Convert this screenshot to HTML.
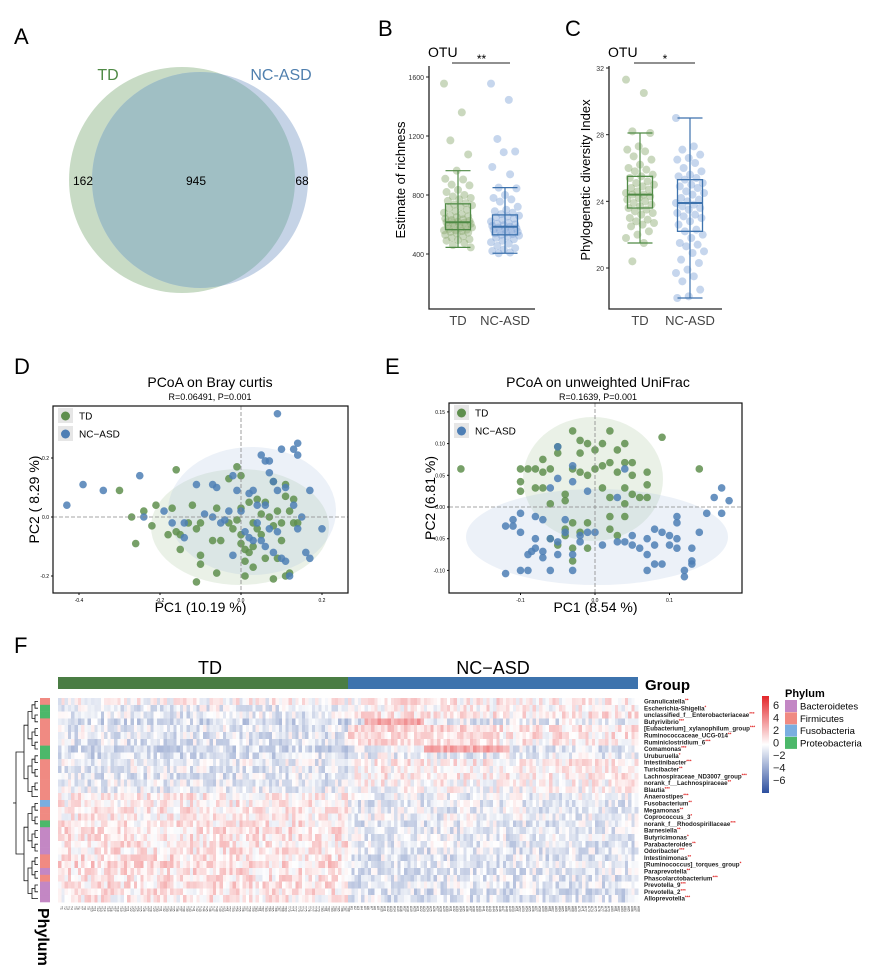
<!DOCTYPE html>
<html><head><meta charset="utf-8">
<style>
html,body{margin:0;padding:0;background:#fff;}
svg{display:block;font-family:"Liberation Sans",Arial,sans-serif;}
</style></head>
<body>
<svg id="fig" width="875" height="977" viewBox="0 0 875 977" xmlns="http://www.w3.org/2000/svg">
<defs>
<clipPath id="vennClip"><circle cx="182" cy="180" r="113"/></clipPath>
<linearGradient id="cbar" x1="0" y1="0" x2="0" y2="1">
<stop offset="0" stop-color="#e3262a"/><stop offset="0.5" stop-color="#ffffff"/><stop offset="1" stop-color="#2d4f9f"/>
</linearGradient>
<clipPath id="clipD"><rect x="53" y="406" width="295" height="187"/></clipPath>
<clipPath id="clipE"><rect x="449" y="403" width="293" height="190"/></clipPath>
</defs>

<g>
<text x="14" y="44" font-size="22">A</text>
<circle cx="182" cy="180" r="113" fill="#c8dbc5"/>
<circle cx="200" cy="180" r="108" fill="#c5d3e6"/>
<circle cx="200" cy="180" r="108" fill="#a0bfc4" clip-path="url(#vennClip)"/>
<text x="108" y="80" font-size="16" fill="#4f8a45" text-anchor="middle">TD</text>
<text x="281" y="80" font-size="16" fill="#4f7fae" text-anchor="middle">NC-ASD</text>
<text x="83" y="185" font-size="12" text-anchor="middle">162</text>
<text x="196" y="185" font-size="12" text-anchor="middle">945</text>
<text x="302" y="185" font-size="12" text-anchor="middle">68</text>
</g>

<text x="378" y="36" font-size="22">B</text>
<text x="565" y="36" font-size="22">C</text>
<g id="panelB"></g>
<g id="panelC"></g>

<text x="14" y="374" font-size="22">D</text>
<text x="385" y="374" font-size="22">E</text>
<g id="panelD"></g>
<g id="panelE"></g>

<text x="14" y="653" font-size="22">F</text>
<g id="panelF"></g>
</svg>

<script>
// ---------- Data: boxplots ----------
const bGroups = ["TD","NC-ASD"];
const bTD = [1555,1360,1170,1075,965,910,905,870,865,835,820,800,790,780,770,760,745,735,730,720,710,700,690,680,670,660,655,650,640,635,630,625,620,615,612,610,605,600,595,590,585,580,575,570,565,560,560,555,550,545,540,530,520,510,500,495,490,475,460,445];
const bNC = [1555,1445,1180,1095,1090,990,940,850,845,800,780,770,755,720,700,690,680,670,660,655,650,640,630,620,610,605,600,595,590,585,580,575,570,565,560,555,550,545,540,535,530,525,520,510,500,490,480,470,455,440,430,420,410,405];
const bStatsTD = [445,565,615,740,965];
const bStatsNC = [405,530,585,665,850];
const bTicks = [400,800,1200,1600];
const cTD = [31.3,30.5,28.2,28.1,27.3,27.1,27.0,26.7,26.5,26.2,26.0,25.9,25.8,25.6,25.5,25.4,25.2,25.1,25.0,24.9,24.8,24.7,24.6,24.5,24.4,24.4,24.3,24.2,24.1,24.0,23.9,23.8,23.7,23.6,23.5,23.4,23.3,23.2,23.0,22.9,22.8,22.7,22.6,22.5,22.2,22.0,21.8,21.5,20.4];
const cNC = [29.0,27.3,27.1,26.8,26.6,26.5,26.3,26.0,25.8,25.6,25.5,25.4,25.3,25.1,25.0,24.9,24.8,24.6,24.5,24.4,24.2,24.1,24.0,23.9,23.8,23.7,23.6,23.5,23.3,23.2,23.1,23.0,22.8,22.6,22.3,22.2,22.0,21.8,21.5,21.4,21.3,21.0,20.9,20.5,20.3,19.9,19.7,19.5,19.2,18.7,18.3,18.2];
const cStatsTD = [21.5,23.6,24.4,25.5,28.1];
const cStatsNC = [18.2,22.2,23.9,25.3,29.0];
const cTicks = [20,24,28,32];

// ---------- Data: PCoA ----------
const dTDx = [-0.16,-0.30,-0.21,-0.27,-0.24,-0.22,-0.26,-0.17,-0.18,-0.16,-0.15,-0.15,-0.12,-0.13,-0.11,-0.10,-0.10,-0.10,-0.11,-0.07,-0.06,-0.05,-0.06,-0.03,-0.03,-0.02,-0.01,0.0,0.0,-0.01,0.0,0.0,0.01,0.01,0.01,0.02,0.02,0.03,0.03,0.03,0.04,0.04,0.05,0.05,0.06,0.06,0.07,0.08,0.08,0.08,0.09,0.09,0.10,0.10,0.11,0.11,0.11,0.12,0.12,0.13,0.13,0.14];
const dTDy = [0.16,0.09,0.04,0.0,0.02,-0.03,-0.09,0.03,-0.06,-0.05,-0.06,-0.11,0.04,-0.02,-0.04,-0.02,-0.13,-0.16,-0.22,-0.08,0.03,-0.08,-0.19,0.13,-0.02,-0.04,0.17,0.14,0.03,-0.01,-0.06,-0.09,-0.15,-0.2,-0.11,-0.12,0.05,-0.02,-0.17,-0.1,0.06,-0.04,0.01,-0.06,0.05,-0.14,0.0,0.12,-0.03,-0.21,0.02,-0.14,-0.02,-0.08,0.11,0.07,-0.2,0.02,-0.19,0.06,-0.02,-0.02];
const dNCx = [-0.43,-0.39,-0.34,-0.25,-0.24,-0.19,-0.17,-0.14,-0.14,-0.11,-0.09,-0.07,-0.07,-0.06,-0.05,-0.04,-0.03,-0.02,-0.02,-0.01,0.0,0.01,0.02,0.02,0.03,0.03,0.04,0.04,0.05,0.05,0.06,0.06,0.06,0.07,0.07,0.07,0.08,0.08,0.09,0.09,0.09,0.10,0.10,0.11,0.11,0.12,0.13,0.13,0.14,0.14,0.14,0.15,0.16,0.17,0.17,0.20];
const dNCy = [0.04,0.11,0.09,0.14,0.0,0.02,-0.02,-0.07,-0.02,0.11,0.01,0.11,0.0,0.10,-0.02,-0.01,0.02,0.14,-0.13,0.09,0.02,-0.05,0.08,-0.07,0.09,-0.08,0.04,-0.02,-0.08,0.21,0.19,0.04,-0.1,-0.04,0.15,0.19,0.12,-0.12,0.09,0.35,-0.05,0.23,-0.14,0.1,-0.15,-0.2,0.04,0.23,0.25,0.21,-0.04,0.0,-0.12,0.09,-0.14,-0.04];
const dTicksX = [-0.4,-0.2,0.0,0.2];
const dTicksY = [-0.2,0.0,0.2];
const eTDx = [-0.18,-0.10,-0.10,-0.10,-0.09,-0.08,-0.08,-0.07,-0.07,-0.07,-0.06,-0.06,-0.05,-0.05,-0.04,-0.04,-0.03,-0.03,-0.02,-0.02,-0.02,-0.01,-0.01,0.0,0.0,0.01,0.01,0.01,0.02,0.02,0.02,0.02,0.03,0.03,0.04,0.04,0.04,0.04,0.04,0.05,0.05,0.05,0.06,0.07,0.07,0.07,0.09,0.14,-0.06,-0.05,-0.04,-0.04,-0.03,-0.03,-0.03,-0.02,-0.01,0.02,0.03,-0.01];
const eTDy = [0.06,0.06,0.04,0.025,0.06,0.03,0.06,0.075,0.055,0.03,0.06,0.005,0.085,0.095,0.02,0.01,0.06,0.12,0.105,0.085,0.055,0.1,0.05,0.09,0.06,0.1,0.065,0.03,0.12,0.07,0.015,-0.015,0.09,0.055,0.1,0.07,0.03,0.005,-0.015,0.07,0.05,0.02,0.015,0.055,0.035,0.015,0.11,0.06,-0.05,-0.06,-0.035,-0.045,-0.065,-0.085,-0.025,-0.04,-0.065,-0.035,-0.045,-0.025];
const eNCx = [-0.12,-0.12,-0.11,-0.11,-0.10,-0.10,-0.10,-0.09,-0.09,-0.08,-0.08,-0.085,-0.08,-0.07,-0.07,-0.07,-0.06,-0.06,-0.06,-0.05,-0.05,-0.05,-0.05,-0.04,-0.04,-0.03,-0.03,-0.03,-0.03,-0.02,-0.02,-0.01,-0.01,0.0,0.01,0.03,0.03,0.04,0.04,0.05,0.05,0.06,0.07,0.07,0.07,0.08,0.08,0.08,0.09,0.09,0.1,0.1,0.11,0.11,0.11,0.11,0.12,0.12,0.13,0.13,0.13,0.14,0.15,0.16,0.17,0.17,0.18];
const eNCy = [-0.105,-0.03,-0.02,-0.03,-0.04,-0.1,-0.01,-0.1,-0.075,-0.065,-0.05,-0.07,-0.015,-0.02,-0.08,-0.07,-0.05,-0.1,0.03,-0.055,0.095,0.045,-0.075,-0.02,-0.04,0.04,-0.075,-0.1,0.065,-0.045,-0.055,-0.04,0.025,-0.04,-0.06,-0.055,0.015,-0.055,0.06,-0.06,-0.045,-0.065,-0.05,-0.075,-0.1,-0.035,-0.06,-0.09,-0.04,-0.09,-0.06,-0.045,-0.065,-0.025,-0.05,-0.015,-0.1,-0.11,-0.09,-0.065,-0.085,-0.04,-0.01,0.015,-0.01,0.03,0.01];
const eTicksX = [-0.1,0.0,0.1];
const eTicksY = [-0.10,-0.05,0.00,0.05,0.10,0.15];

// ---------- Data: heatmap ----------
const taxa = ["Granulicatella","Escherichia-Shigella","unclassified_f__Enterobacteriaceae","Butyrivibrio","[Eubacterium]_xylanophilum_group","Ruminococcaceae_UCG-014","Ruminiclostridium_6","Comamonas","Uruburuella","Intestinibacter","Turicibacter","Lachnospiraceae_ND3007_group","norank_f__Lachnospiraceae","Blautia","Anaerostipes","Fusobacterium","Megamonas","Coprococcus_3","norank_f__Rhodospirillaceae","Barnesiella","Butyricimonas","Parabacteroides","Odoribacter","Intestinimonas","[Ruminococcus]_torques_group","Paraprevotella","Phascolarctobacterium","Prevotella_9","Prevotella_2","Alloprevotella"];
const stars = ["**","*","***","***","***","**","***","***","*","***","**","***","**","***","***","**","**","*","***","**","*","**","***","**","*","**","***","***","***","***"];
const phyla = ["F","P","P","F","F","F","F","P","P","F","F","F","F","F","F","Fu","F","F","P","B","B","B","B","F","F","B","F","B","B","B"];
const tdMean = [0.1,-0.3,-0.4,-0.8,-0.4,-0.5,-0.5,-0.8,-0.7,-0.3,-0.4,-0.5,-0.4,-0.3,0.3,0.3,0.4,0.3,0.4,0.5,0.4,0.4,0.4,0.5,0.6,0.5,0.4,0.5,0.4,0.3];
const ncMean = [0.3,0.2,0.4,-0.4,0.4,0.4,0.3,-0.5,-0.3,0.3,0.2,0.3,0.1,0.0,-0.3,-0.4,-0.4,-0.3,-0.5,-0.4,-0.4,-0.5,-0.5,-0.5,-0.5,-0.5,-0.5,-0.5,-0.6,-0.6];
const ncBandRows = [3,7,4,5,6];
const ncBandStart = [5,23,0,0,0];
const ncBandEnd = [23,49,45,45,45];
const ncBandVal = [1.6,1.6,0.8,0.6,0.6];
const cbarTicks = [6,4,2,0,-2,-4,-6];

const NS = "http://www.w3.org/2000/svg";
function mk(tag, attrs, parent){
  const e = document.createElementNS(NS, tag);
  for (const k in attrs) e.setAttribute(k, attrs[k]);
  parent.appendChild(e); return e;
}
function jit(i){ return (((i*37)%23)-11)/11; }

function boxPanel(g, opt){
  const y = v => opt.y0 + (v - opt.v0) * opt.k;
  const ax = mk('path',{d:`M${opt.xl} ${opt.yt} V${opt.yb} H${opt.xr}`,stroke:'#222',fill:'none','stroke-width':1.3},g);
   
  opt.ticks.forEach(t=>{
    const tk = mk('line',{x1:opt.xl-3,x2:opt.xl,y1:y(t),y2:y(t),stroke:'#222'},g);
     
    const tl = mk('text',{x:opt.xl-5,y:y(t)+3,'font-size':7,'text-anchor':'end',fill:'#333'},g);
    tl.textContent = t;
     
  });
  const yt = mk('text',{x:0,y:0,'font-size':13,'text-anchor':'middle',transform:`translate(${opt.ytx},${opt.ytY}) rotate(-90)`},g);
  yt.textContent = opt.ytitle;
   
  const otu = mk('text',{x:opt.xl-1,y:57,'font-size':14},g); otu.textContent='OTU';
   
  const sl = mk('line',{x1:opt.cx[0]-6,x2:opt.cx[1]+5,y1:63,y2:63,stroke:'#222'},g);
   
  const st = mk('text',{x:(opt.cx[0]+opt.cx[1])/2,y:63,'font-size':12,'text-anchor':'middle'},g); st.textContent=opt.sig;
   
  const cols = [['#8aa86f','#4f8a45'],['#80a3d6','#3d72ad']];
  [opt.d1,opt.d2].forEach((arr,gi)=>{
    const cx = opt.cx[gi];
    arr.forEach((v,i)=>{
      const c = mk('circle',{cx:cx + jit(i)*14, cy:y(v), r:4, fill:cols[gi][0], 'fill-opacity':0.45},g);
       
    });
    const s = gi===0?opt.s1:opt.s2, col = cols[gi][1], w = 12.5;
    const wl = mk('line',{x1:cx,x2:cx,y1:y(s[0]),y2:y(s[4]),stroke:col,'stroke-width':1.2},g);
     
    [s[0],s[4]].forEach(v=>{
      const cap = mk('line',{x1:cx-w,x2:cx+w,y1:y(v),y2:y(v),stroke:col,'stroke-width':1.2},g);
       
    });
    const bx = mk('rect',{x:cx-w,y:y(s[3]),width:2*w,height:y(s[1])-y(s[3]),fill:'none',stroke:col,'stroke-width':1.3},g);
     
    const md = mk('line',{x1:cx-w,x2:cx+w,y1:y(s[2]),y2:y(s[2]),stroke:col,'stroke-width':2},g);
     
    const xl = mk('text',{x:cx,y:325,'font-size':13,'text-anchor':'middle',fill:'#444'},g);
    xl.textContent = bGroups[gi];
     
  });
}
boxPanel(document.getElementById('panelB'),{xl:429,xr:535,yt:66,yb:309,v0:1600,y0:77,k:-177/1200,ticks:bTicks,cx:[458,505],d1:bTD,d2:bNC,s1:bStatsTD,s2:bStatsNC,ytitle:'Estimate of richness',ytx:405,ytY:180,sig:'**'});
boxPanel(document.getElementById('panelC'),{xl:609,xr:722,yt:66,yb:309,v0:32,y0:68,k:-200/12,ticks:cTicks,cx:[640,690],d1:cTD,d2:cNC,s1:cStatsTD,s2:cStatsNC,ytitle:'Phylogenetic diversity Index',ytx:590,ytY:180,sig:'*'});

function pcoa(g, o){
  const X = v => o.x0 + v*o.kx, Y = v => o.y0 - v*o.ky;
  const t = mk('text',{x:o.tx,y:387,'font-size':14,'text-anchor':'middle'},g); t.textContent=o.title;
   
  const st = mk('text',{x:o.tx,y:400,'font-size':9,'text-anchor':'middle'},g); st.textContent=o.sub;
   
  const inner = mk('g',{'clip-path':o.clip},g);
  o.ells.forEach((e,i)=>{
    const el = mk('ellipse',{cx:e[0],cy:e[1],rx:e[2],ry:e[3],fill:i===0?'#9fbf90':'#a8bedf','fill-opacity':0.22},inner);
     
  });
  const hl = mk('line',{x1:o.fx,x2:o.fx+o.fw,y1:Y(0),y2:Y(0),stroke:'#888','stroke-dasharray':'4 2','stroke-width':0.8},g);
   
  const vl = mk('line',{x1:X(0),x2:X(0),y1:o.fy,y2:o.fy+o.fh,stroke:'#888','stroke-dasharray':'4 2','stroke-width':0.8},g);
   
  [[o.tdx,o.tdy,'#5f8f4e','td-point'],[o.ncx,o.ncy,'#4e7fb5','nc-asd-point']].forEach(s=>{
    s[0].forEach((xv,i)=>{
      const c = mk('circle',{cx:X(xv),cy:Y(s[1][i]),r:3.8,fill:s[2],'fill-opacity':0.85},inner);
       
    });
  });
  const fr = mk('rect',{x:o.fx,y:o.fy,width:o.fw,height:o.fh,fill:'none',stroke:'#111','stroke-width':1.2},g);
   
  o.ticksX.forEach(v=>{
    const tk = mk('line',{x1:X(v),x2:X(v),y1:o.fy+o.fh,y2:o.fy+o.fh+2,stroke:'#111'},g);
     
    const tl = mk('text',{x:X(v),y:o.fy+o.fh+9,'font-size':5,'text-anchor':'middle'},g); tl.textContent=v.toFixed(o.dx);
     
  });
  o.ticksY.forEach(v=>{
    const tk = mk('line',{x1:o.fx-2,x2:o.fx,y1:Y(v),y2:Y(v),stroke:'#111'},g);
     
    const tl = mk('text',{x:o.fx-4,y:Y(v)+2,'font-size':5,'text-anchor':'end'},g); tl.textContent=v.toFixed(o.dy);
     
  });
  const xt = mk('text',{x:o.fx+o.fw/2,y:612,'font-size':14,'text-anchor':'middle'},g); xt.textContent=o.xtitle;
   
  const yt = mk('text',{x:0,y:0,'font-size':14,'text-anchor':'middle',transform:`translate(${o.fx-14},${o.fy+o.fh/2}) rotate(-90)`},g); yt.textContent=o.ytitle;
   
  [['TD','#5f8f4e',o.fy+10],['NC\u2212ASD','#4e7fb5',o.fy+28]].forEach(l=>{
    const lg = mk('g',{},g);
     
    mk('rect',{x:o.fx+5,y:l[2]-8,width:15,height:15,fill:'#e6e6e6'},lg);
    mk('circle',{cx:o.fx+12.5,cy:l[2],r:4.5,fill:l[1]},lg);
    const tx = mk('text',{x:o.fx+26,y:l[2]+3.5,'font-size':10},lg); tx.textContent=l[0];
  });
}
pcoa(document.getElementById('panelD'),{fx:53,fy:406,fw:295,fh:187,x0:241,kx:405,y0:517,ky:295,clip:'url(#clipD)',
  tx:210,title:'PCoA on Bray curtis',sub:'R=0.06491,  P=0.001',ells:[[240,527,89,58],[252,511,84,64]],
  tdx:dTDx,tdy:dTDy,ncx:dNCx,ncy:dNCy,ticksX:dTicksX,ticksY:dTicksY,dx:1,dy:1,xtitle:'PC1 (10.19 %)',ytitle:'PC2 ( 8.29 %)'});
pcoa(document.getElementById('panelE'),{fx:449,fy:403,fw:293,fh:190,x0:595,kx:745,y0:507,ky:634,clip:'url(#clipE)',
  tx:598,title:'PCoA on unweighted UniFrac',sub:'R=0.1639,  P=0.001',ells:[[593,479,70,62],[597,537,131,48]],
  tdx:eTDx,tdy:eTDy,ncx:eNCx,ncy:eNCy,ticksX:eTicksX,ticksY:eTicksY,dx:1,dy:2,xtitle:'PC1 (8.54 %)',ytitle:'PC2 (6.81 %)'});

(function(){
  const g = document.getElementById('panelF');
  const hx = 58, hw = 580, hy = 698, rh = 6.8, nCol = 88, cw = hw/(2*nCol);
  const phCol = {F:'#f08a82',P:'#4cb86a',Fu:'#7aaee0',B:'#c387c4'};
  function color(v){
    const t = Math.max(-1, Math.min(1, v/4));
    if (t >= 0) { const a=t; return `rgb(${Math.round(255-a*(255-227))},${Math.round(255-a*(255-38))},${Math.round(255-a*(255-42))})`; }
    const a=-t; return `rgb(${Math.round(255-a*(255-45))},${Math.round(255-a*(255-79))},${Math.round(255-a*(255-159))})`;
  }
  function tex(r,c){ const s = Math.sin(r*127.1 + c*311.7)*43758.5453; return (s - Math.floor(s) - 0.5)*1.8; }
  const t1 = mk('text',{x:210,y:674,'font-size':18,'text-anchor':'middle'},g); t1.textContent='TD';
   
  const t2 = mk('text',{x:493,y:674,'font-size':18,'text-anchor':'middle'},g); t2.textContent='NC\u2212ASD';
   
  const gb1 = mk('rect',{x:hx,y:677,width:hw/2,height:12,fill:'#4a7d44'},g);
   
  const gb2 = mk('rect',{x:hx+hw/2,y:677,width:hw/2,height:12,fill:'#3d73ad'},g);
   
  const gt = mk('text',{x:645,y:690,'font-size':15,'font-weight':'bold'},g); gt.textContent='Group';
   
  const cells = mk('g',{'shape-rendering':'crispEdges'},g);
   
  for (let r=0;r<taxa.length;r++){
    for (let c=0;c<2*nCol;c++){
      const nc = c>=nCol, ci = nc?c-nCol:c;
      let v = (nc?ncMean[r]:tdMean[r]) + tex(r,c);
      if (nc) for (let b=0;b<ncBandRows.length;b++) if (ncBandRows[b]===r && ci>=ncBandStart[b] && ci<ncBandEnd[b]) v = ncBandVal[b] + tex(r,c)*0.7;
      const cell = mk('rect',{x:hx+c*cw,y:hy+r*rh,width:cw+0.3,height:rh+0.3,fill:color(v)},cells);
       
    }
    const pb = mk('rect',{x:40,y:hy+r*rh,width:10,height:rh+0.3,fill:phCol[phyla[r]]},g);
     
    const lb = mk('text',{x:644,y:hy+r*rh+5.5,'font-size':6.2,'font-weight':'bold',fill:'#222'},g);
    lb.textContent = taxa[r];
    const sp = mk('tspan',{fill:'#e02020','font-size':4.5,dy:-2},lb); sp.textContent = stars[r];
     
  }
  const dg = mk('g',{stroke:'#111','stroke-width':0.8,fill:'none'},g);
   
  function tree(lo,hi){
    if (lo===hi) return {y:hy+lo*rh+rh/2, x:38};
    const mid = Math.floor((lo+hi)/2);
    const a = tree(lo,mid), b = tree(mid+1,hi);
    const x = Math.min(a.x,b.x) - (hi-lo>14?8:(hi-lo>5?4:3));
    mk('path',{d:`M${a.x} ${a.y} H${x} V${b.y} H${b.x}`},dg);
    return {y:(a.y+b.y)/2, x:x};
  }
  const root = tree(0,taxa.length-1);
  mk('path',{d:`M${root.x} ${root.y} H${root.x-3}`},dg);
  const cl = mk('g',{'font-size':3.2,fill:'#333'},g);
   
  for (let c=0;c<2*nCol;c++){
    const x = hx+c*cw+cw/2+1;
    const t = mk('text',{x:0,y:0,transform:`translate(${x},${906}) rotate(90)`},cl);
    t.textContent = (c<nCol?'T':'A')+(c%nCol+1);
  }
  const pl = mk('text',{x:0,y:0,'font-size':16,'font-weight':'bold',transform:'translate(38,908) rotate(90)'},g);
  pl.textContent='Phylum';
   
  const cb = mk('rect',{x:762,y:696,width:7,height:97,fill:'url(#cbar)'},g);
   
  cbarTicks.forEach(v=>{
    const t = mk('text',{x:773,y:742.5-v*6.25+4,'font-size':11,fill:'#222'},g);
    t.textContent = v<0 ? '\u2212'+(-v) : v;
     
  });
  const ph = mk('text',{x:785,y:697,'font-size':11,'font-weight':'bold'},g); ph.textContent='Phylum';
   
  [['Bacteroidetes','B'],['Firmicutes','F'],['Fusobacteria','Fu'],['Proteobacteria','P']].forEach((p,i)=>{
    const lg = mk('g',{},g);
     
    mk('rect',{x:785,y:700+i*12.3,width:12,height:12,fill:phCol[p[1]]},lg);
    const tx = mk('text',{x:800,y:709.5+i*12.3,'font-size':9.5},lg); tx.textContent=p[0];
  });
})();
</script>
</body></html>
